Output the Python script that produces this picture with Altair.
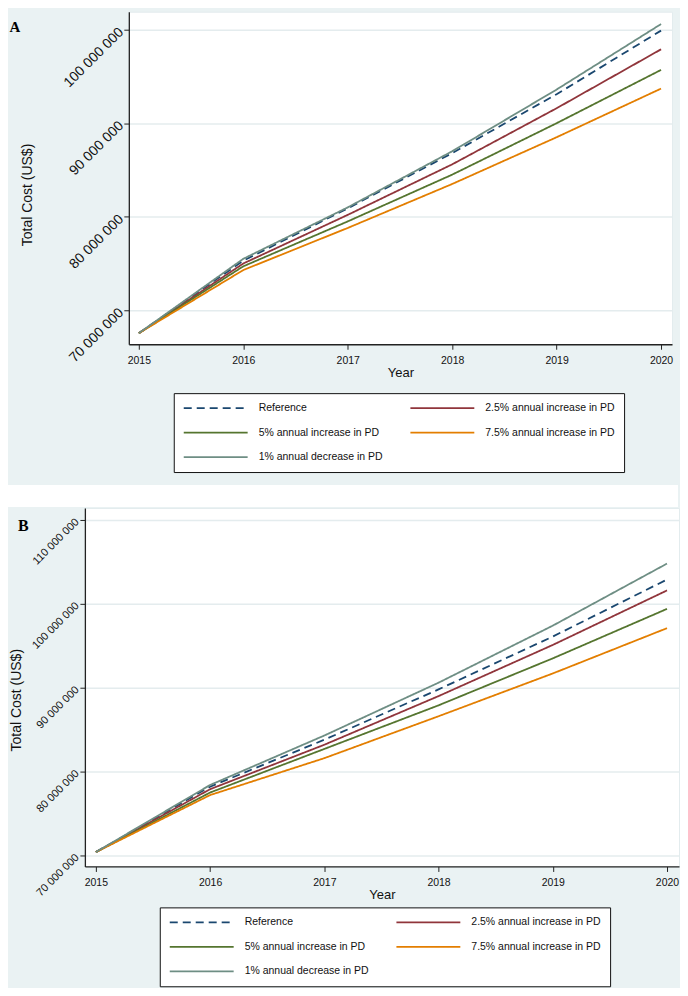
import altair as alt
import pandas as pd

years = [2015, 2016, 2017, 2018, 2019, 2020]
scenarios = [
    "Reference",
    "2.5% annual increase in PD",
    "5% annual increase in PD",
    "7.5% annual increase in PD",
    "1% annual decrease in PD",
]
colors = ["#1a476f", "#90353b", "#55752f", "#e37e00", "#6e8e84"]
dash_patterns = [[8, 5], [1, 0], [1, 0], [1, 0], [1, 0]]
panel_labels = ["\u00a0\u00a0A", "B"]

# Panel A (Total cost, US$)
a_reference = [67.55e6, 75.3e6, 80.9e6, 86.8e6, 93.1e6, 99.9e6]
a_inc_2_5 = [67.55e6, 75.0e6, 80.2e6, 85.6e6, 91.6e6, 97.9e6]
a_inc_5 = [67.55e6, 74.7e6, 79.5e6, 84.5e6, 90.0e6, 95.7e6]
a_inc_7_5 = [67.55e6, 74.3e6, 78.8e6, 83.5e6, 88.5e6, 93.7e6]
a_dec_1 = [67.55e6, 75.5e6, 81.0e6, 87.0e6, 93.6e6, 100.6e6]
a_ticks = [70e6, 80e6, 90e6, 100e6]

# Panel B (Total cost, US$)
b_reference = [70.4e6, 78.2e6, 83.8e6, 89.8e6, 96.1e6, 102.9e6]
b_inc_2_5 = [70.4e6, 77.9e6, 83.2e6, 89.0e6, 95.1e6, 101.6e6]
b_inc_5 = [70.4e6, 77.5e6, 82.7e6, 87.9e6, 93.5e6, 99.4e6]
b_inc_7_5 = [70.4e6, 77.2e6, 81.6e6, 86.6e6, 91.7e6, 97.1e6]
b_dec_1 = [70.4e6, 78.4e6, 84.3e6, 90.6e6, 97.4e6, 104.8e6]
b_ticks = [70e6, 80e6, 90e6, 100e6, 110e6]

BG = "#EAF2F3"
GRID = "#E4ECEE"
FONT = "Liberation Sans"


def make_df(series):
    rows = []
    for name, vals in zip(scenarios, series):
        for yr, v in zip(years, vals):
            rows.append({"year": yr, "cost": v, "scenario": name})
    return pd.DataFrame(rows)


def blank(width, height, fill):
    return alt.Chart(pd.DataFrame({"s": []})).mark_point(opacity=0).properties(
        width=width, height=height,
        view=alt.ViewBackground(fill=fill, stroke=fill, strokeWidth=0),
    )


def panel(df, label, label_x, label_y, label_size, width, height, ydomain,
          yticks, ylab_size, ylab_pad, title_x, title_y, leg_x, leg_y):
    leg = alt.Legend(
        orient="none", legendX=leg_x, legendY=leg_y, columns=2,
        direction="horizontal", title=None,
        symbolType="stroke", symbolSize=4096, symbolStrokeWidth=1.8,
        labelFont=FONT, labelFontSize=10.5, labelColor="#111", labelLimit=400,
        labelOffset=10, strokeColor="#111", fillColor="white", padding=9,
        rowPadding=12.5, columnPadding=26, clipHeight=12,
    )
    x_axis = alt.Axis(
        values=years, format="d", grid=False, labelFlush=False,
        labelOverlap=False, tickSize=5, labelPadding=6.5, labelFont=FONT,
        labelFontSize=10.5, labelColor="#111", domainColor="#222",
        tickColor="#222", domainWidth=1.3, title="Year", titleFont=FONT,
        titleFontSize=13, titleFontWeight="normal", titleColor="#111",
        titleY=28, titleBaseline="middle",
    )
    y_axis = alt.Axis(
        values=yticks,
        labelExpr="replace(format(datum.value, ','), regexp(',', 'g'), ' ')",
        labelAngle=315, labelAlign="right", labelBaseline="middle",
        labelFont=FONT, labelFontSize=ylab_size, labelColor="#111",
        labelPadding=ylab_pad, labelFlush=False, labelOverlap=False,
        tickSize=5, tickColor="#222", domainColor="#222", domainWidth=1.3,
        grid=True, gridColor=GRID, gridWidth=1.5,
        title="Total Cost (US$)", titleFont=FONT, titleFontSize=14,
        titleFontWeight="normal", titleColor="#111", titleX=title_x,
        titleY=title_y, titleAngle=270, titleAlign="center",
        titleBaseline="middle",
    )
    lines = alt.Chart(df).mark_line(strokeWidth=1.8).encode(
        x=alt.X("year:Q", scale=alt.Scale(domain=[2014.904, 2020.105], nice=False, zero=False), axis=x_axis),
        y=alt.Y("cost:Q", scale=alt.Scale(domain=ydomain, nice=False, zero=False), axis=y_axis),
        color=alt.Color("scenario:N", scale=alt.Scale(domain=scenarios, range=colors), legend=leg),
        strokeDash=alt.StrokeDash("scenario:N", scale=alt.Scale(domain=scenarios, range=dash_patterns), legend=leg),
        order=alt.Order("year:Q"),
    )
    tag = alt.Chart(pd.DataFrame({"label": [label]})).mark_text(
        align="left", baseline="middle", font="Liberation Serif",
        fontSize=label_size, fontWeight="bold", color="#000",
    ).encode(text="label:N", x=alt.value(label_x), y=alt.value(label_y))
    body = alt.layer(lines, tag).properties(width=width, height=height)
    # a 1px spacer so that each panel is aligned on its outer left edge
    return alt.hconcat(blank(1, 1, BG), body, spacing=0).resolve_scale(
        color="independent", strokeDash="independent"
    ).resolve_legend(color="independent", strokeDash="independent")


df_a = make_df([a_reference, a_inc_2_5, a_inc_5, a_inc_7_5, a_dec_1])
df_b = make_df([b_reference, b_inc_2_5, b_inc_5, b_inc_7_5, b_dec_1])

chart_a = panel(df_a, panel_labels[0], -119.5, 15, 15, 544, 333,
                [66.37e6, 101.92e6], a_ticks, 14, 3, -101, 183, 45, 382)
chart_b = panel(df_b, panel_labels[1], -67, 18, 16, 595, 359,
                [68.69e6, 111.43e6], b_ticks, 11, 3, -68, 192, 75, 400)

top_part = alt.vconcat(chart_a, blank(671, 22, "white"), spacing=12).resolve_scale(
    color="independent", strokeDash="independent"
).resolve_legend(color="independent", strokeDash="independent")

chart = alt.vconcat(top_part, chart_b, spacing=0).resolve_scale(
    color="independent", strokeDash="independent"
).resolve_legend(
    color="independent", strokeDash="independent"
).properties(
    background=BG,
    padding={"left": 0, "top": 2, "right": 0, "bottom": 0},
).configure_view(fill="white", stroke="#E3ECEE", strokeWidth=1)

chart.save("out.html", embed_options={"renderer": "svg", "actions": False})
